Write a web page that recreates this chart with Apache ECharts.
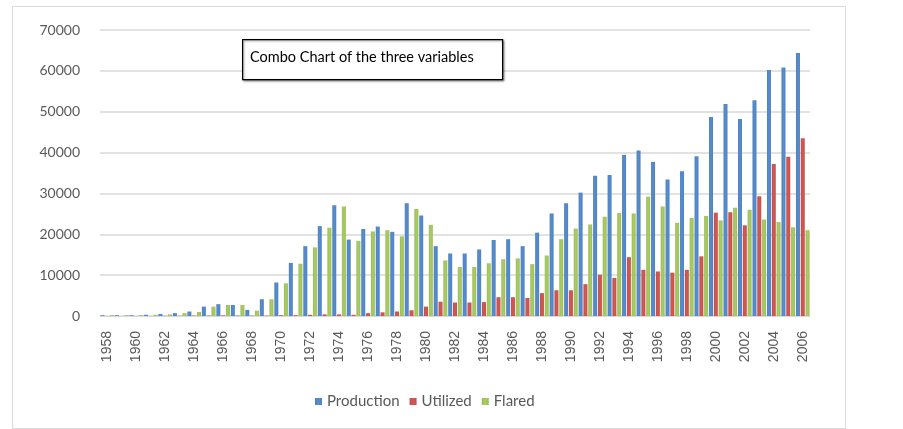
<!DOCTYPE html>
<html>
<head>
<meta charset="utf-8">
<script src="https://cdn.jsdelivr.net/npm/echarts@6/dist/echarts.min.js"></script>
<style>
html,body{margin:0;padding:0;background:#fff;}
#chart{width:903px;height:429px;}
</style>
</head>
<body>
<div id="chart"></div>
<script>
const years = ['1958','1959','1960','1961','1962','1963','1964','1965','1966','1967','1968','1969','1970','1971','1972','1973','1974','1975','1976','1977','1978','1979','1980','1981','1982','1983','1984','1985','1986','1987','1988','1989','1990','1991','1992','1993','1994','1995','1996','1997','1998','1999','2000','2001','2002','2003','2004','2005','2006'];
const production = [200,200,200,300,500,700,1100,2300,2900,2700,1500,4100,8200,13000,17100,22000,27100,18700,21300,21900,20600,27600,24600,17100,15300,15300,16300,18600,18800,17100,20400,25100,27600,30200,34300,34500,39400,40500,37700,33400,35400,39100,48700,51900,48200,52800,60200,60800,64400];
const utilized = [0,0,0,0,50,50,100,100,150,100,100,100,200,200,300,400,400,300,700,900,1100,1400,2300,3500,3300,3300,3400,4600,4600,4400,5600,6300,6300,7800,10100,9300,14400,11300,10900,10600,11300,14600,25300,25400,22200,29300,37200,39000,43500];
const flared = [200,200,200,300,400,700,1000,2300,2700,2700,1300,4100,8000,12800,16800,21600,26800,18400,20700,21000,19500,26200,22300,13600,12000,12000,12900,13900,14100,12700,14800,18800,21400,22400,24300,25200,25100,29200,26800,22800,24000,24500,23400,26500,26000,23600,23000,21700,21000];
const yTicks = [0,10000,20000,30000,40000,50000,60000,70000];
const seriesNames = ['Production','Utilized','Flared'];
const colors = ['#4F81BD','#C0504D','#9BBB59'];
const titleText = 'Combo Chart of the three variables';

const chart = echarts.init(document.getElementById('chart'));
const dataSets = [production, utilized, flared];
chart.setOption({
  animation: false,
  backgroundColor: '#fff',
  grid: {left: 100, right: 93, top: 30, bottom: 113},
  legend: {
    data: seriesNames,
    top: 389,
    left: 310,
    icon: 'rect',
    itemWidth: 7,
    itemHeight: 7,
    itemGap: 10,
    itemTextGap: 4,
    textStyle: {fontFamily: 'Lato', fontSize: 15, color: '#595959'}
  },
  xAxis: {
    type: 'category',
    data: years,
    boundaryGap: true,
    axisLine: {lineStyle: {color: '#d9d9d9', width: 1}},
    axisTick: {show: false},
    axisLabel: {
      interval: 1,
      rotate: 90,
      margin: 15,
      fontFamily: 'Liberation Sans',
      fontSize: 14,
      color: '#595959'
    }
  },
  yAxis: {
    type: 'value',
    min: 0,
    max: 70000,
    interval: 10000,
    axisLine: {show: false},
    axisTick: {show: false},
    splitLine: {lineStyle: {color: '#d9d9d9', width: 1.5}},
    axisLabel: {
      margin: 20,
      fontFamily: 'Lato',
      fontSize: 14,
      color: '#595959',
      formatter: v => yTicks.includes(v) ? String(v) : ''
    }
  },
  graphic: [
    {type: 'rect', left: 10, top: 4, shape: {width: 833, height: 422}, style: {fill: 'none', stroke: '#d9d9d9', lineWidth: 1}, silent: true},
    {type: 'rect', left: 242, top: 39, shape: {width: 260, height: 40}, style: {fill: '#fff', stroke: '#000', lineWidth: 1.2, shadowColor: 'rgba(0,0,0,0.4)', shadowBlur: 2, shadowOffsetX: 1, shadowOffsetY: 1}, z: 10},
    {type: 'text', left: 250, top: 50, style: {text: titleText, fontFamily: 'Lato', fontSize: 14.5, fill: '#000'}, z: 11}
  ],
  series: seriesNames.map((name, i) => ({
    name: name,
    type: 'bar',
    data: dataSets[i],
    barWidth: 4,
    barGap: '20%',
    itemStyle: {
      color: new echarts.graphic.LinearGradient(0, 0, 1, 0, [
        {offset: 0, color: colors[i]},
        {offset: 0.5, color: echarts.color.lift(colors[i], -0.1)},
        {offset: 1, color: colors[i]}
      ])
    }
  }))
});
</script>
</body>
</html>
